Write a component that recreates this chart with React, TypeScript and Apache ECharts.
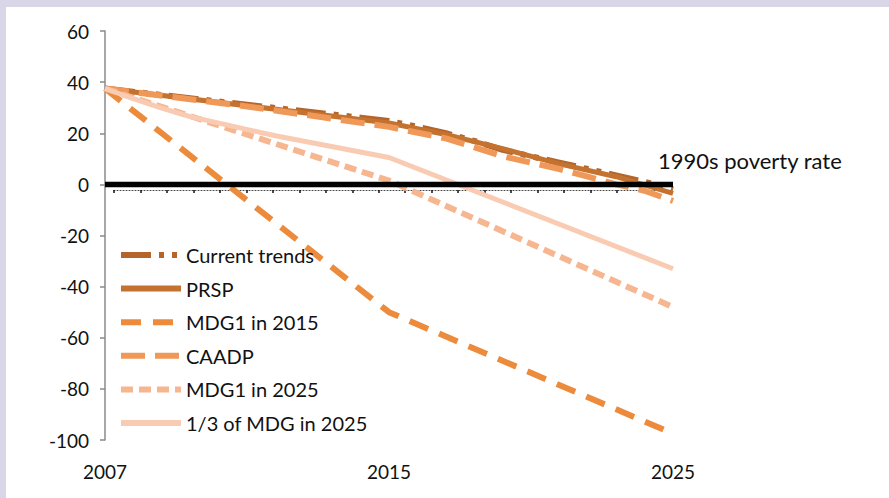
import React, { useEffect, useRef } from "react";
import * as echarts from "echarts";

// x positions: 2007 .. 2015 (left half), 2015 .. 2025 (right half)
const xLabels = [
  "2007", "", "", "", "", "", "", "", "", "",
  "2015", "", "", "", "", "", "", "", "", "",
  "2025",
];
const yTicks = { min: -100, max: 60, interval: 20 };

const seriesNames = [
  "Current trends",
  "PRSP",
  "MDG1 in 2015",
  "CAADP",
  "MDG1 in 2025",
  "1/3 of MDG in 2025",
];

const currentTrends = [37.5, null, null, 33.7, null, null, 29.9, null, null, 26.1, 24.8, 22.5, 20, 17, 13.5, 11, 8.5, 6, 3.5, 1, -2];
const prsp = [37.5, null, null, null, null, null, null, null, null, null, 24, null, 19.5, null, 14, null, 8, null, 3, null, -3.5];
const mdg2015 = [37.5, null, null, null, null, null, null, null, null, null, -50, null, null, null, null, null, null, null, null, null, -97.5];
const caadp = [37.5, null, null, null, null, 30.5, null, null, null, null, 22.5, null, 18, null, 11, 8.5, 6, 3, 0, -2.5, -6.5];
const mdg2025 = [37.5, null, null, null, null, null, null, null, null, null, 1.5, null, null, null, null, null, null, null, null, null, -48];
const thirdMdg = [37.5, 33.5, 29.8, 26.5, null, null, 19, null, null, null, 10.5, null, null, null, null, null, null, null, null, null, -33];
const poverty1990s = [0, null, null, null, null, null, null, null, null, null, null, null, null, null, null, null, null, null, null, null, 0];
const povertyLabel = "1990s poverty rate";

const dotAxisTicks = ["", "", "", "", "", "", "", "", "", "", "", "", "", "", "", "", "", "", "", "", "", ""];

const FONT = "Lato, 'Liberation Sans', sans-serif";

export default function App() {
  const ref = useRef<HTMLDivElement>(null);
  useEffect(() => {
    document.body.style.margin = "0";
    if (!ref.current) return;
    const chart = echarts.init(ref.current, undefined, { renderer: "svg" });
    const mk = (name: string, data: (number | null)[], color: string, type: any, width = 6) => ({
      name,
      type: "line",
      data,
      connectNulls: true,
      symbol: "none",
      xAxisIndex: 0,
      yAxisIndex: 0,
      lineStyle: { color, width, type, cap: "butt" },
      itemStyle: { color },
    });
    chart.setOption({
      animation: false,
      backgroundColor: "transparent",
      textStyle: { fontFamily: FONT },
      grid: [
        { left: 105, right: 216, top: 31, bottom: 58 },
        { left: 114, right: 219, top: 100, bottom: 308 },
      ],
      xAxis: [
        {
          type: "category",
          gridIndex: 0,
          data: xLabels,
          boundaryGap: false,
          axisLine: { show: false, onZero: false },
          axisTick: { show: false },
          splitLine: { show: false },
          axisLabel: { interval: 0, margin: 22, fontSize: 19, color: "#111", fontFamily: FONT },
        },
        {
          type: "category",
          gridIndex: 1,
          data: dotAxisTicks,
          boundaryGap: false,
          position: "bottom",
          axisLine: { show: true, onZero: false, lineStyle: { color: "#444", width: 1, type: [1, 2] } },
          axisTick: { show: true, interval: 0, length: 3, lineStyle: { color: "#111", width: 1.5 } },
          axisLabel: { show: false },
          splitLine: { show: false },
        },
      ],
      yAxis: [
        {
          type: "value",
          gridIndex: 0,
          min: yTicks.min,
          max: yTicks.max,
          interval: yTicks.interval,
          axisLine: { show: true, lineStyle: { color: "#8a8a8a", width: 1.5 } },
          axisTick: { show: true, length: 5, lineStyle: { color: "#8a8a8a", width: 1.5 } },
          splitLine: { show: false },
          axisLabel: { margin: 16, fontSize: 19, color: "#111", fontFamily: FONT },
        },
        { type: "value", gridIndex: 1, show: false, min: 0, max: 1 },
      ],
      legend: {
        data: seriesNames,
        orient: "vertical",
        left: 113,
        top: 239,
        itemWidth: 60,
        itemHeight: 14,
        itemGap: 11.6,
        itemStyle: { opacity: 0 },
        lineStyle: { width: 6 },
        textStyle: { fontSize: 20, color: "#111", fontFamily: FONT, lineHeight: 22 },
      },
      series: [
        mk(seriesNames[0], currentTrends, "#b5652a", [30, 8, 5, 8, 5, 8]),
        mk(seriesNames[1], prsp, "#c4722f", "solid", 5),
        mk(seriesNames[2], mdg2015, "#ec8b3b", [20, 12]),
        mk(seriesNames[3], caadp, "#f09858", [24, 10]),
        mk(seriesNames[4], mdg2025, "#f5b690", [12, 6]),
        mk(seriesNames[5], thirdMdg, "#f8cbb2", "solid", 5),
        {
          name: povertyLabel,
          type: "line",
          data: poverty1990s,
          connectNulls: true,
          symbol: "none",
          xAxisIndex: 0,
          yAxisIndex: 0,
          z: 10,
          lineStyle: { color: "#000", width: 5.5 },
          endLabel: {
            show: true,
            formatter: povertyLabel,
            offset: [-23, -24],
            fontSize: 22,
            color: "#111",
            fontFamily: FONT,
          },
        },
      ],
    });
    return () => chart.dispose();
  }, []);
  return (
    <div style={{ position: "relative", width: 889, height: 498, background: "#d9d7e7", overflow: "hidden" }}>
      <div style={{ position: "absolute", left: 6, top: 7, right: 0, bottom: 0, background: "#fff" }} />
      <div ref={ref} style={{ position: "absolute", left: 0, top: 0, width: 889, height: 498 }} />
    </div>
  );
}
